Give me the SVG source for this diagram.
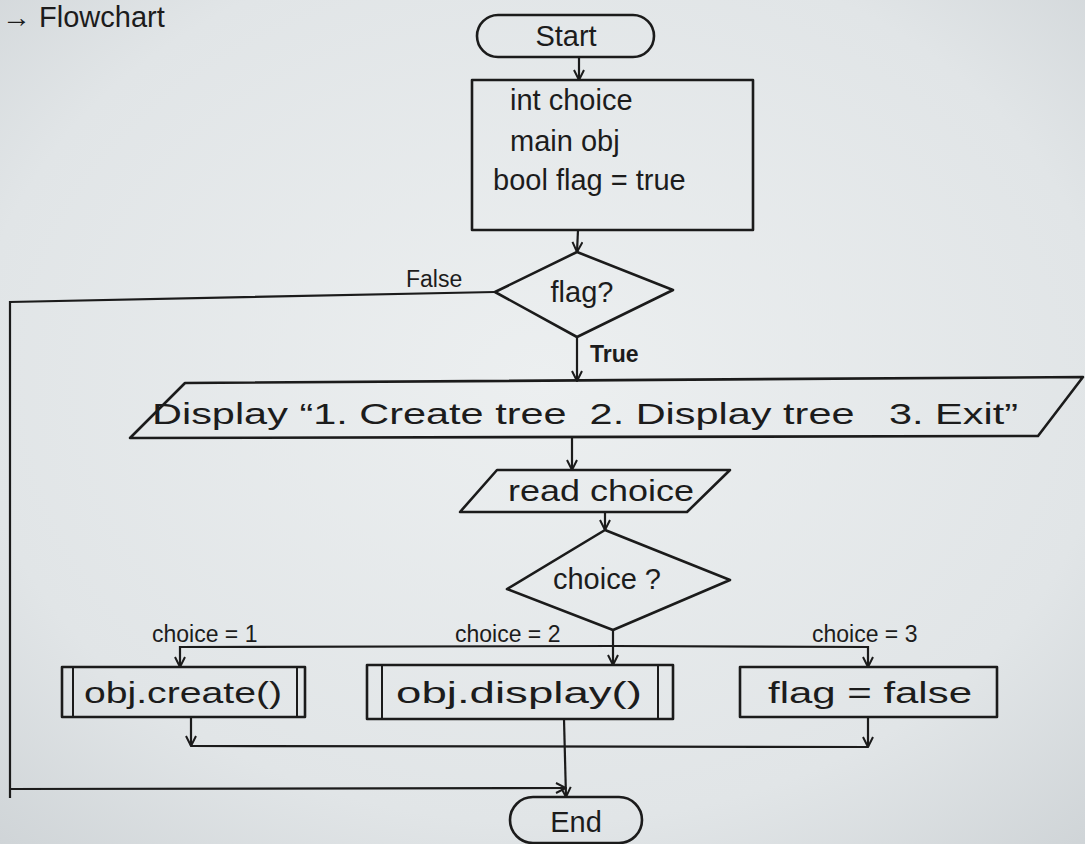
<svg xmlns="http://www.w3.org/2000/svg" width="1085" height="844" viewBox="0 0 1085 844">
  <defs>
    <radialGradient id="paper" cx="50%" cy="45%" r="75%">
      <stop offset="0" stop-color="#eceff0"/>
      <stop offset="0.7" stop-color="#e1e5e7"/>
      <stop offset="1" stop-color="#cfd4d7"/>
    </radialGradient>
    <marker id="arrow" viewBox="0 0 12 12" refX="11" refY="6" markerWidth="12" markerHeight="12" markerUnits="userSpaceOnUse" orient="auto">
      <path d="M1,1 L11,6 L1,11" fill="none" stroke="#1b1b1b" stroke-width="2"/>
    </marker>
    <style>
      .shape { fill: none; stroke: #1b1b1b; stroke-width: 2.6; stroke-linejoin: round; }
      .thin { fill: none; stroke: #1b1b1b; stroke-width: 2; }
      .edge { fill: none; stroke: #1b1b1b; stroke-width: 2.2; marker-end: url(#arrow); }
      .line { fill: none; stroke: #1b1b1b; stroke-width: 2.2; }
      text { font-family: "Liberation Sans", "DejaVu Sans", sans-serif; fill: #1c1c1c; }
      .t { font-size: 29px; }
      .lbl { font-size: 23px; }
    </style>
  </defs>

  <!-- paper -->
  <rect x="0" y="0" width="1085" height="844" fill="url(#paper)"/>

  <!-- page heading -->
  <text x="2" y="27" font-size="29">→ Flowchart</text>

  <!-- connectors -->
  <g id="connectors">
    <path class="edge" d="M579,57 L579,80"/>
    <path class="edge" d="M578,230 L577,252"/>
    <path class="edge" d="M577,337 L577,381"/>
    <path class="line" d="M495,292 L10,302 L10,798"/>
    <path class="edge" d="M10,789 L566,788"/>
    <path class="edge" d="M572,437 L572,470"/>
    <path class="edge" d="M605,512 L605,530"/>
    <path class="edge" d="M613,630 L613,665"/>
    <path class="edge" d="M613,646 L180,647 L180,667"/>
    <path class="edge" d="M613,646 L868,647 L868,667"/>
    <path class="edge" d="M191,717 L191,746"/>
    <path class="line" d="M191,746 L868,747"/>
    <path class="edge" d="M868,717 L868,747"/>
    <path class="edge" d="M564,719 L566,797"/>
    <text class="lbl" x="406" y="287" font-size="26">False</text>
    <text class="lbl" x="590" y="362" font-size="26" font-weight="bold">True</text>
    <text class="lbl" x="152" y="642">choice = 1</text>
    <text class="lbl" x="455" y="642">choice = 2</text>
    <text class="lbl" x="812" y="642">choice = 3</text>
  </g>

  <g id="start">
    <rect class="shape" x="477" y="15" width="177" height="42" rx="21"/>
    <text class="t" x="566" y="46" text-anchor="middle" font-size="31">Start</text>
  </g>

  <g id="init">
    <rect class="shape" x="472" y="80" width="281" height="150"/>
    <text class="t" x="510" y="110">int choice</text>
    <text class="t" x="510" y="151">main obj</text>
    <text class="t" x="493" y="190">bool flag = true</text>
  </g>

  <g id="flag-check">
    <polygon class="shape" points="577,252 673,290 577,337 495,292"/>
    <text class="t" x="582" y="302" text-anchor="middle">flag?</text>
  </g>

  <g id="menu">
    <polygon class="shape" points="185,383 1083,377 1038,436 130,438"/>
    <text class="t" x="152" y="424" textLength="866" lengthAdjust="spacingAndGlyphs" xml:space="preserve">Display “1. Create tree  2. Display tree   3. Exit”</text>
  </g>

  <g id="read-choice">
    <polygon class="shape" points="497,470 730,470 687,512 460,512"/>
    <text class="t" x="508" y="501" textLength="186" lengthAdjust="spacingAndGlyphs">read choice</text>
  </g>

  <g id="choice-check">
    <polygon class="shape" points="605,530 730,580 613,630 507,589"/>
    <text class="t" x="607" y="589" text-anchor="middle">choice ?</text>
  </g>

  <g id="create">
    <rect class="shape" x="62" y="667" width="243" height="50"/>
    <line class="thin" x1="73" y1="667" x2="73" y2="717"/>
    <line class="thin" x1="297" y1="667" x2="297" y2="717"/>
    <text class="t" x="84" y="703" textLength="198" lengthAdjust="spacingAndGlyphs">obj.create()</text>
  </g>

  <g id="display">
    <rect class="shape" x="367" y="665" width="306" height="54"/>
    <line class="thin" x1="382" y1="665" x2="382" y2="719"/>
    <line class="thin" x1="658" y1="665" x2="658" y2="719"/>
    <text class="t" x="396" y="703" textLength="246" lengthAdjust="spacingAndGlyphs">obj.display()</text>
  </g>

  <g id="exit">
    <rect class="shape" x="740" y="667" width="257" height="50"/>
    <text class="t" x="768" y="703" textLength="204" lengthAdjust="spacingAndGlyphs">flag = false</text>
  </g>

  <g id="end">
    <rect class="shape" x="510" y="797" width="132" height="46" rx="23"/>
    <text class="t" x="576" y="832" text-anchor="middle" font-size="31">End</text>
  </g>
</svg>
